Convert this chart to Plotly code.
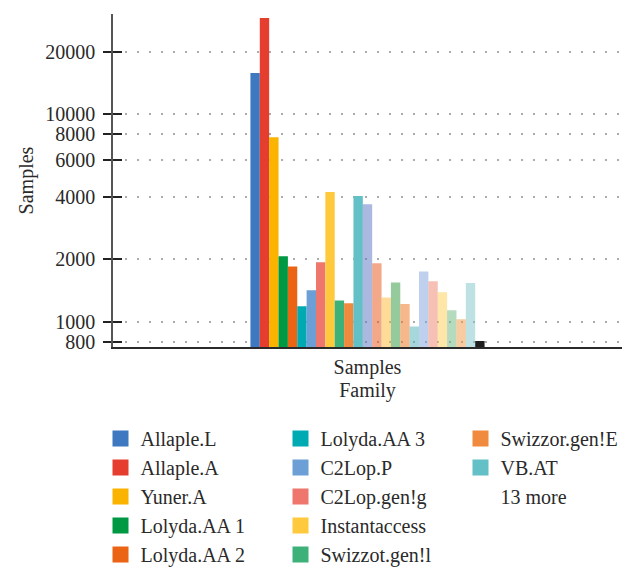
import plotly.graph_objects as go

category = ["Samples"]

families = [
    "Allaple.L", "Allaple.A", "Yuner.A", "Lolyda.AA 1", "Lolyda.AA 2",
    "Lolyda.AA 3", "C2Lop.P", "C2Lop.gen!g", "Instantaccess", "Swizzot.gen!l",
    "Swizzor.gen!E", "VB.AT",
]
family_values = [15800, 29100, 7760, 2070, 1850, 1190, 1420, 1940, 4220, 1270, 1230, 4040]

other_families = [
    "Fakerean", "Alueron.gen!J", "Malex.gen!J", "Lolyda.AT", "Adialer.C",
    "Wintrim.BX", "Dialplatform.B", "Dontovo.A", "Obfuscator.AD", "Agent.FYI",
    "Autorun.K", "Rbot!gen", "Skintrim.N",
]
other_values = [3690, 1920, 1310, 1550, 1220, 950, 1750, 1570, 1390, 1140, 1030, 1540, 810]

palette = [
    "#3e78c0", "#e63e2e", "#fab400", "#009943", "#ea6413", "#00aab3",
    "#6c9fd5", "#ee766c", "#ffc93d", "#3eb17b", "#f08a3e", "#62c0c6",
]
other_palette = [
    "rgba(87,113,193,0.5)", "rgba(233,81,21,0.5)", "rgba(255,183,51,0.5)",
    "rgba(43,151,57,0.5)", "rgba(237,113,21,0.5)", "rgba(77,177,183,0.5)",
    "rgba(125,161,221,0.5)", "rgba(239,129,107,0.5)", "rgba(251,205,81,0.5)",
    "rgba(105,183,125,0.5)", "rgba(243,151,65,0.5)", "rgba(125,197,199,0.5)",
    "#1e1e1e",
]

tick_vals = [800, 1000, 2000, 4000, 6000, 8000, 10000, 20000]
y_range = [2.8795, 4.483]

FONT = "Liberation Serif"
TXT = "#2a2a2a"

W, H = 625, 559   # page body has an 8px margin
ML, MR, MT, MB = 105, 11, 6, 220
PW = W - ML - MR

fig = go.Figure()

for name, val, col in zip(families, family_values, palette):
    fig.add_trace(go.Bar(x=category, y=[val], name=name, marker_color=col,
                         marker_line_width=0, showlegend=False))
for name, val, col in zip(other_families, other_values, other_palette):
    fig.add_trace(go.Bar(x=category, y=[val], name=name, marker_color=col,
                         marker_line_width=0, showlegend=False))

# legend entries (3 columns)
legend_names = ["legend", "legend", "legend", "legend", "legend",
                "legend2", "legend2", "legend2", "legend2", "legend2",
                "legend3", "legend3"]
for name, col, lg in zip(families, palette, legend_names):
    fig.add_trace(go.Scatter(x=[None], y=[None], mode="markers", name=name,
                             marker=dict(symbol="square", size=16, color=col),
                             legend=lg, legendgroup=name, hoverinfo="skip"))
fig.add_trace(go.Scatter(x=[None], y=[None], mode="markers", name="13 more",
                         marker=dict(symbol="square", size=16, color="rgba(0,0,0,0)"),
                         legend="legend3", legendgroup="more", hoverinfo="skip"))

leg_common = dict(font=dict(family=FONT, size=20, color=TXT), traceorder="grouped",
                  tracegroupgap=0, xref="paper", yref="container",
                  xanchor="left", yanchor="top", bgcolor="rgba(0,0,0,0)",
                  itemclick=False)
ytop = 1 - 411 / H

fig.update_layout(
    width=W, height=H,
    margin=dict(l=ML, r=MR, t=MT, b=MB),
    paper_bgcolor="white", plot_bgcolor="white",
    barmode="group", bargap=0.54, bargroupgap=0,
    font=dict(family=FONT, size=20, color=TXT),
    legend=dict(x=(100.5 - 113) / PW, y=ytop, **leg_common),
    legend2=dict(x=(280.5 - 113) / PW, y=ytop, **leg_common),
    legend3=dict(x=(460.5 - 113) / PW, y=ytop, **leg_common),
    xaxis=dict(type="category", showline=True, linecolor="#2a2a2a", linewidth=2,
               ticks="", showgrid=False, ticklabelstandoff=1, automargin=False,
               title=dict(text="Family", standoff=4,
                          font=dict(family=FONT, size=20, color=TXT)),
               tickfont=dict(family=FONT, size=20, color=TXT)),
    yaxis=dict(type="log", range=y_range, tickvals=tick_vals,
               ticktext=[str(v) for v in tick_vals],
               showline=True, linecolor="#555555", linewidth=1.5,
               ticks="outside", ticklen=8, tickwidth=2, tickcolor="#222222",
               ticklabelstandoff=4, automargin=False,
               showgrid=True, gridcolor="#ababab", gridwidth=2, griddash="2px,10px",
               zeroline=False,
               title=dict(text="Samples", standoff=6,
                          font=dict(family=FONT, size=20, color=TXT)),
               tickfont=dict(family=FONT, size=20, color=TXT)),
    yaxis2=dict(type="log", overlaying="y", anchor="x", range=y_range, side="left",
                showticklabels=False, ticks="inside", ticklen=9, tickwidth=2,
                tickcolor="#222222", tickvals=tick_vals, showgrid=False,
                showline=False, zeroline=False, automargin=False),
)
# invisible trace to activate yaxis2 ticks
fig.add_trace(go.Scatter(x=category, y=[None], yaxis="y2", showlegend=False,
                         hoverinfo="skip", mode="markers"))

fig.write_html("out.html")
